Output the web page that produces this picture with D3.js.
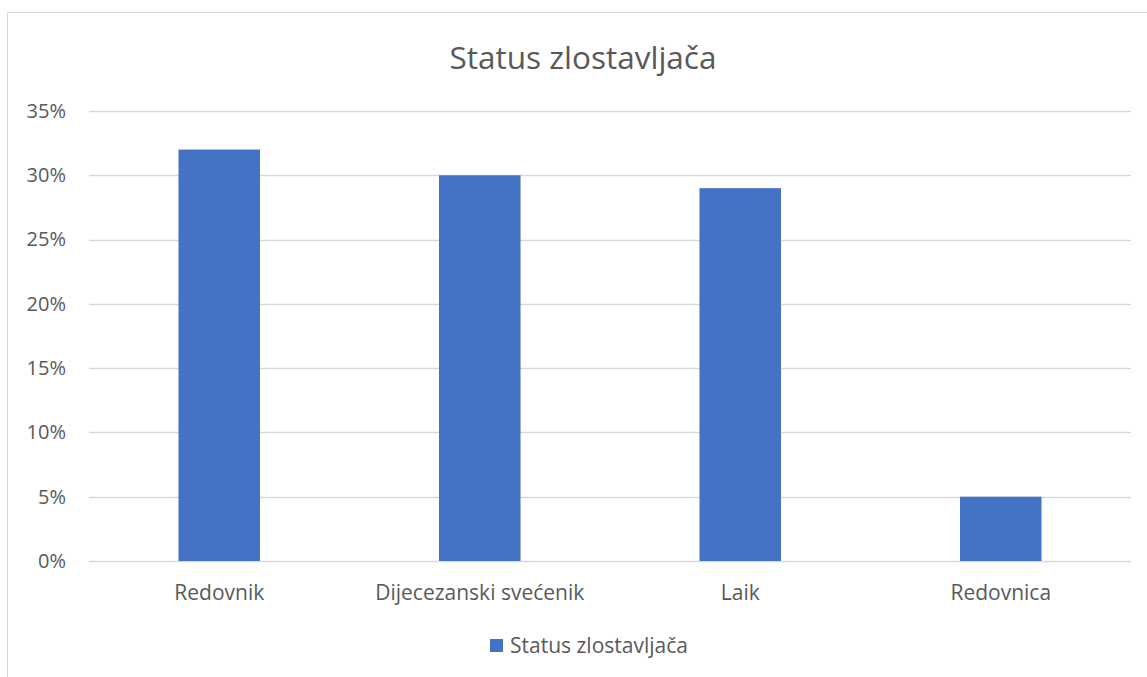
<!DOCTYPE html>
<html>
<head>
<meta charset="utf-8">
<script src="https://cdn.jsdelivr.net/npm/d3@7"></script>
<style>
  body { margin: 0; background: #fff; }
  svg text { font-family: "Open Sans", sans-serif; fill: #595959; }
</style>
</head>
<body>
<svg id="chart" width="1147" height="677"></svg>
<script>
const categories = ['Redovnik', 'Dijecezanski svećenik', 'Laik', 'Redovnica'];
const values = [0.32, 0.30, 0.29, 0.05];
const yTicks = [0, 0.05, 0.10, 0.15, 0.20, 0.25, 0.30, 0.35];
const seriesName = 'Status zlostavljača';

const svg = d3.select('#chart');
const margin = { top: 111, right: 16, bottom: 116, left: 89 };
const width = 1147 - margin.left - margin.right;
const height = 677 - margin.top - margin.bottom;

// chart frame
svg.append('path')
  .attr('d', 'M7.5,677 V12.5 H1147')
  .attr('fill', 'none')
  .attr('stroke', '#d9d9d9')
  .attr('stroke-width', 1);

svg.append('text')
  .attr('x', 583)
  .attr('y', 69)
  .attr('text-anchor', 'middle')
  .style('font-size', '31.5px')
  .text(seriesName);

const g = svg.append('g').attr('transform', `translate(${margin.left},${margin.top})`);

const x = d3.scaleBand().domain(categories).range([0, width]).paddingInner(0.687).paddingOuter(0.3435);
const y = d3.scaleLinear().domain([0, 0.35]).range([height, 0]);

// gridlines
g.append('g')
  .selectAll('line')
  .data(yTicks)
  .join('line')
  .attr('x1', 0)
  .attr('x2', width)
  .attr('y1', d => Math.round(y(d)) + 0.5)
  .attr('y2', d => Math.round(y(d)) + 0.5)
  .attr('stroke', '#d9d9d9')
  .attr('stroke-width', 1.5);

const yAxis = g.append('g')
  .call(d3.axisLeft(y).tickValues(yTicks).tickFormat(d3.format('.0%')).tickSize(0).tickPadding(23));
yAxis.select('.domain').remove();
yAxis.selectAll('text').style('font-size', '20px').attr('fill', '#595959');

g.selectAll('rect.bar')
  .data(values)
  .join('rect')
  .classed('bar', true)
  .attr('x', (d, i) => x(categories[i]))
  .attr('width', x.bandwidth())
  .attr('y', d => y(d))
  .attr('height', d => height - y(d))
  .attr('fill', '#4472c4');

const xAxis = g.append('g')
  .attr('transform', `translate(0,${height})`)
  .call(d3.axisBottom(x).tickSize(0).tickPadding(24));
xAxis.select('.domain').remove();
xAxis.selectAll('text').style('font-size', '21px').attr('fill', '#595959');

// legend
const legend = svg.append('g').attr('transform', 'translate(490,639)');
legend.append('rect').attr('width', 13).attr('height', 13).attr('fill', '#4472c4');
legend.append('text').attr('x', 20).attr('y', 13.5).style('font-size', '21px').text(seriesName);
</script>
</body>
</html>
